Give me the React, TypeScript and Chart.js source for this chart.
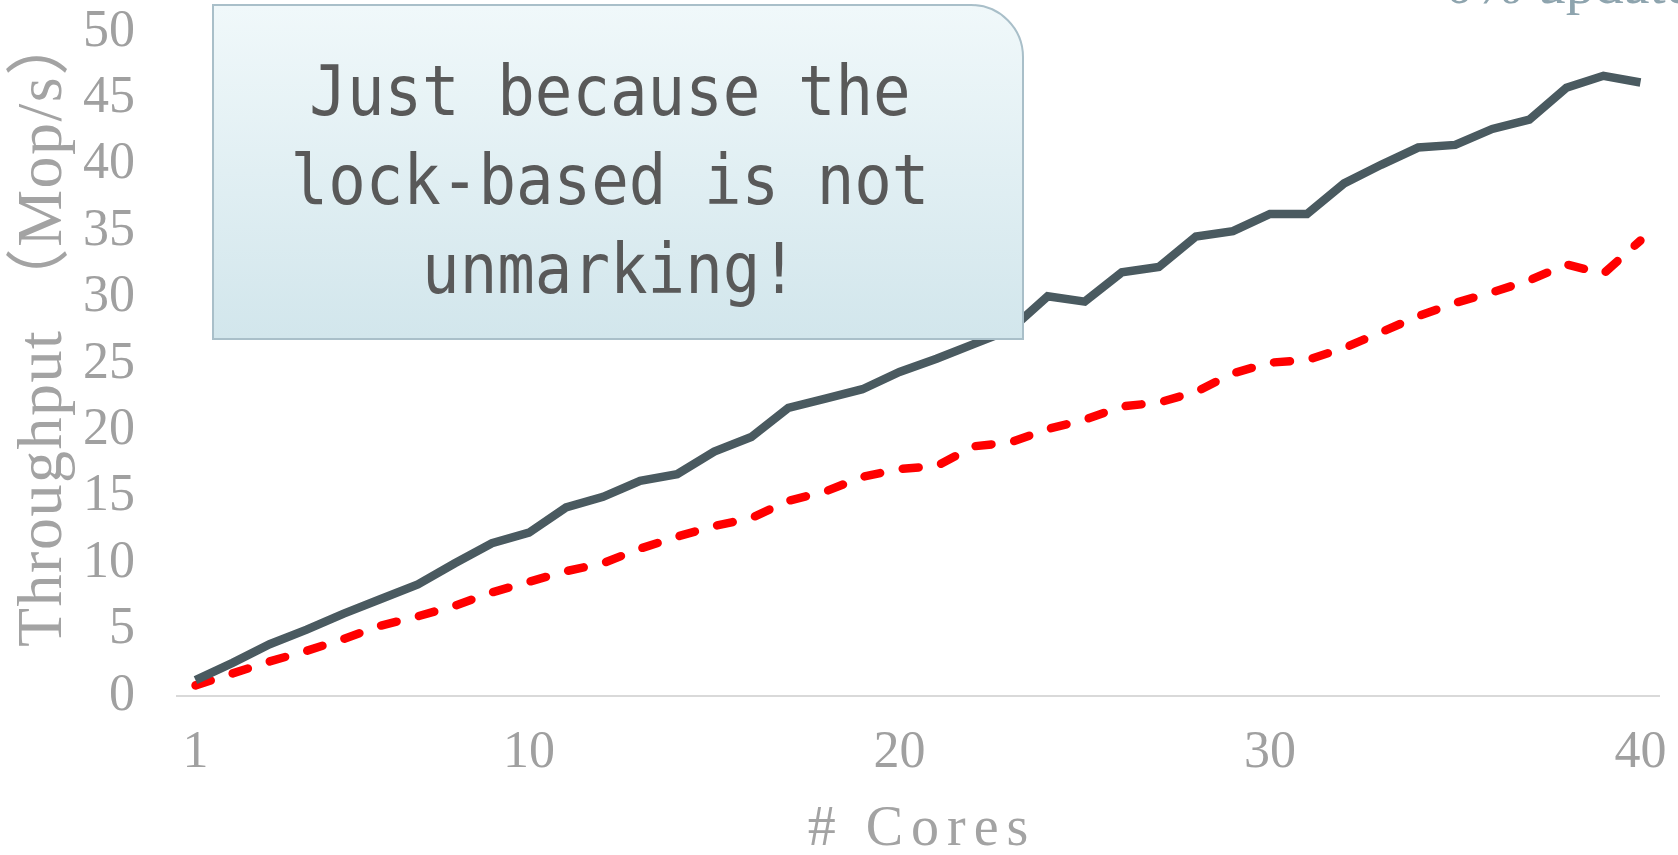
import React, { useEffect, useRef } from "react";
import { Chart, registerables } from "chart.js";

Chart.register(...registerables);

// Number of cores on the x axis
const cores = [
  1, 2, 3, 4, 5, 6, 7, 8, 9, 10, 11, 12, 13, 14, 15, 16, 17, 18, 19, 20,
  21, 22, 23, 24, 25, 26, 27, 28, 29, 30, 31, 32, 33, 34, 35, 36, 37, 38, 39, 40,
];

// Throughput (Mop/s), solid dark series
const lockBasedThroughput = [
  1.2, 2.5, 3.9, 5.0, 6.2, 7.3, 8.4, 10.0, 11.5, 12.3,
  14.2, 15.0, 16.2, 16.7, 18.4, 19.5, 21.7, 22.4, 23.1, 24.4,
  25.4, 26.5, 27.6, 30.1, 29.7, 31.9, 32.3, 34.6, 35.0, 36.3,
  36.3, 38.6, 40.0, 41.3, 41.5, 42.7, 43.4, 45.8, 46.7, 46.2,
];

// Throughput (Mop/s), dashed red series
const lockFreeThroughput = [
  0.8, 1.7, 2.6, 3.4, 4.3, 5.3, 6.0, 6.8, 7.8, 8.6,
  9.4, 10.0, 11.1, 12.0, 12.8, 13.4, 14.7, 15.4, 16.5, 17.1,
  17.3, 18.8, 19.1, 20.1, 20.8, 21.8, 22.1, 22.9, 24.3, 25.1,
  25.3, 26.2, 27.4, 28.6, 29.6, 30.4, 31.3, 32.5, 31.8, 34.3,
];

// Core counts that carry a tick label
const labelledCores = [1, 10, 20, 30, 40];

const xTitle = "# Cores";
const yTitle = "Throughput （Mop/s）";
const chartTitle = "0% updates";
const calloutLines = ["Just because the", "lock-based is not", "unmarking!"];

const TICK_COLOR = "#a0a0a0";
const TITLE_COLOR = "#a3a3a3";
const SERIF = '"Liberation Serif", "Times New Roman", "Noto Sans CJK SC", serif';

const axisTitlesPlugin = {
  id: "axisTitles",
  afterDraw(chart: any) {
    const { ctx, chartArea } = chart;
    ctx.save();
    ctx.fillStyle = TITLE_COLOR;
    ctx.textBaseline = "alphabetic";

    // x title, centred under the plot area
    ctx.textAlign = "center";
    (ctx as any).letterSpacing = "8px";
    ctx.font = `56px ${SERIF}`;
    const cx = (chartArea.left + chartArea.right) / 2;
    ctx.fillText(xTitle, cx + 4, chartArea.bottom + 149);

    // y title, rotated, running upward from near the axis bottom
    ctx.textAlign = "left";
    (ctx as any).letterSpacing = "1.5px";
    ctx.font = `64px ${SERIF}`;
    ctx.translate(61, chartArea.bottom - 49);
    ctx.rotate(-Math.PI / 2);
    ctx.fillText(yTitle, 0, 0);
    ctx.restore();
  },
};

export default function App() {
  const canvasRef = useRef<HTMLCanvasElement | null>(null);

  useEffect(() => {
    if (!canvasRef.current) return;
    const chart = new Chart(canvasRef.current, {
      type: "line",
      data: {
        labels: cores.map(String),
        datasets: [
          {
            label: "Lock-based",
            data: lockBasedThroughput,
            borderColor: "#4a5a60",
            borderWidth: 8.5,
            borderCapStyle: "butt",
            borderJoinStyle: "miter",
            pointRadius: 0,
            tension: 0,
            fill: false,
          },
          {
            label: "Lock-free",
            data: lockFreeThroughput,
            borderColor: "#ff0000",
            borderWidth: 8.5,
            borderDash: [16, 23],
            borderCapStyle: "round",
            borderJoinStyle: "round",
            pointRadius: 0,
            tension: 0,
            fill: false,
          },
        ],
      },
      options: {
        responsive: false,
        animation: false,
        layout: { padding: { top: 32, right: 19, left: 0, bottom: 0 } },
        plugins: {
          legend: { display: false },
          tooltip: { enabled: false },
          title: { display: false },
        },
        scales: {
          x: {
            type: "category",
            offset: true,
            grid: { display: false, drawTicks: false },
            border: { display: true, color: "#d9d9d9", width: 2 },
            ticks: {
              autoSkip: false,
              maxRotation: 0,
              minRotation: 0,
              padding: 26,
              color: TICK_COLOR,
              font: { family: SERIF, size: 52 },
              callback: (_v: any, i: number) =>
                labelledCores.includes(cores[i]) ? String(cores[i]) : "",
            },
            afterFit: (s: any) => {
              s.height = 159;
              s.paddingLeft = 0;
              s.paddingRight = 0;
            },
          },
          y: {
            min: 0,
            max: 50,
            grid: { display: false, drawTicks: false },
            border: { display: false },
            ticks: {
              stepSize: 5,
              autoSkip: false,
              padding: 42,
              color: TICK_COLOR,
              font: { family: SERIF, size: 52 },
            },
            afterFit: (s: any) => {
              s.width = 177;
              s.paddingTop = 0;
              s.paddingBottom = 0;
            },
          },
        },
      },
      plugins: [axisTitlesPlugin],
    });
    return () => chart.destroy();
  }, []);

  return (
    <div
      style={{
        position: "fixed",
        left: 0,
        top: 0,
        width: 1678,
        height: 855,
        overflow: "hidden",
        background: "#ffffff",
      }}
    >
      <canvas
        ref={canvasRef}
        width={1678}
        height={855}
        style={{ display: "block", position: "absolute", left: 0, top: 0 }}
      />
      <div
        style={{
          position: "absolute",
          left: 1445,
          top: -45.5,
          fontFamily: SERIF,
          fontSize: 58,
          lineHeight: "58px",
          color: "#8ea4ae",
          whiteSpace: "nowrap",
        }}
      >
        {chartTitle}
      </div>
      <div
        style={{
          position: "absolute",
          left: 212,
          top: 4,
          width: 812,
          height: 336,
          boxSizing: "border-box",
          border: "2px solid #a9bfc9",
          borderTopRightRadius: 53,
          background: "linear-gradient(180deg, #f0f8fa 0%, #d2e6ec 100%)",
          paddingTop: 41,
          paddingRight: 16,
          textAlign: "center",
          fontFamily: '"DejaVu Sans Mono", monospace',
          fontSize: 68.6,
          lineHeight: "89px",
          color: "#595959",
        }}
      >
        {calloutLines.map((line) => (
          <div key={line} style={{ transform: "scaleX(0.91)", whiteSpace: "pre" }}>
            {line}
          </div>
        ))}
      </div>
    </div>
  );
}
